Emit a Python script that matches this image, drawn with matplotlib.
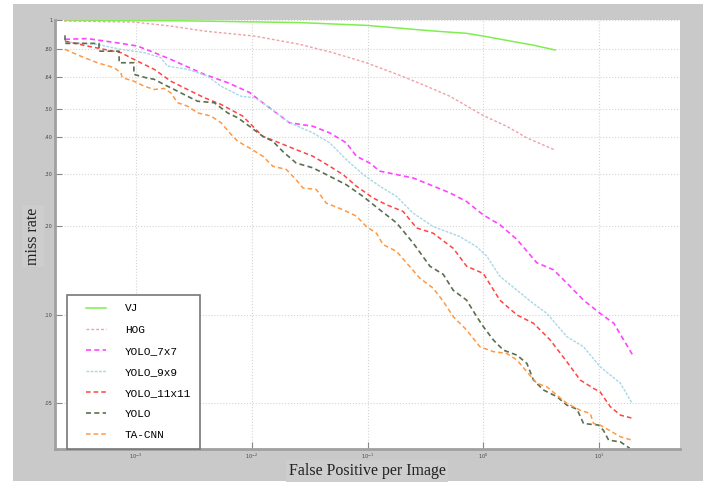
import matplotlib
matplotlib.use("Agg")
import matplotlib.pyplot as plt
from matplotlib.patches import Rectangle
from matplotlib.lines import Line2D
from matplotlib.legend_handler import HandlerLine2D

# FPPI / miss-rate curves
vj_fppi = [2.44e-4, 2.37e-3, 0.0259, 0.0978, 0.367, 0.718, 1.0, 1.81, 2.69, 4.17]
vj_mr = [0.998, 0.994, 0.980, 0.959, 0.918, 0.901, 0.882, 0.845, 0.822, 0.791]

hog_fppi = [2.39e-4, 9.6e-4, 2.0e-3, 3.89e-3, 7.52e-3, 0.01055, 0.0259, 0.050,
            0.0978, 0.190, 0.324, 0.515, 1.0, 1.59, 2.38, 4.09]
hog_mr = [0.992, 0.984, 0.954, 0.917, 0.894, 0.882, 0.827, 0.775,
          0.716, 0.649, 0.596, 0.551, 0.474, 0.436, 0.398, 0.363]

y7_fppi = [2.44e-4, 3.80e-4, 7.40e-4, 1.03e-3, 1.44e-3, 2.00e-3, 3.89e-3, 6.19e-3,
           9.55e-3, 0.01245, 0.0212, 0.0337, 0.0471, 0.0656, 0.0801, 0.1045, 0.1276,
           0.248, 0.346, 0.515, 0.718, 1.0, 1.39, 1.95, 2.90, 4.04, 5.27, 7.34,
           10.2, 13.4, 16.3, 19.9]
y7_mr = [0.860, 0.865, 0.833, 0.816, 0.775, 0.735, 0.654, 0.613,
         0.568, 0.524, 0.448, 0.436, 0.414, 0.383, 0.345, 0.327, 0.307,
         0.291, 0.276, 0.259, 0.242, 0.218, 0.202, 0.180, 0.150, 0.142, 0.128, 0.112,
         0.101, 0.0935, 0.0821, 0.0720]

y9_fppi = [2.44e-4, 4.64e-4, 7.40e-4, 1.18e-3, 1.64e-3, 1.87e-3, 2.79e-3, 4.16e-3,
           5.43e-3, 8.09e-3, 0.01055, 0.01245, 0.0212, 0.0337, 0.0471, 0.0656, 0.0914,
           0.1276, 0.178, 0.248, 0.369, 0.629, 0.877, 1.07, 1.39, 2.71, 3.54, 5.27,
           7.34, 10.2, 15.3, 19.3]
y9_mr = [0.842, 0.827, 0.795, 0.775, 0.745, 0.698, 0.680, 0.645,
         0.596, 0.551, 0.545, 0.524, 0.448, 0.414, 0.383, 0.336, 0.299,
         0.273, 0.252, 0.221, 0.199, 0.184, 0.170, 0.158, 0.135, 0.109, 0.101, 0.0842,
         0.0778, 0.0666, 0.0585, 0.050]

y11_fppi = [2.44e-4, 3.80e-4, 7.40e-4, 1.03e-3, 1.44e-3, 2.00e-3, 2.79e-3, 3.89e-3,
            5.43e-3, 8.36e-3, 0.01245, 0.01734, 0.0242, 0.0337, 0.0471, 0.0614, 0.0801,
            0.1116, 0.146, 0.203, 0.265, 0.369, 0.550, 0.718, 1.0, 1.39, 1.95, 2.71,
            3.78, 5.27, 6.87, 8.96, 10.2, 12.5, 15.3, 19.9]
y11_mr = [0.848, 0.816, 0.775, 0.725, 0.680, 0.620, 0.581, 0.545,
          0.517, 0.472, 0.403, 0.383, 0.363, 0.345, 0.319, 0.299, 0.273,
          0.249, 0.236, 0.224, 0.197, 0.189, 0.168, 0.146, 0.138, 0.112, 0.0998, 0.0935,
          0.0821, 0.0692, 0.060, 0.0562, 0.0547, 0.0487, 0.0456, 0.0444]

yolo_fppi = [2.44e-4, 2.44e-4, 4.80e-4, 4.80e-4, 7.16e-4, 7.16e-4, 9.6e-4, 9.6e-4,
             1.22e-3, 1.44e-3, 1.75e-3, 2.14e-3, 2.79e-3, 3.41e-3, 4.75e-3, 6.19e-3,
             7.55e-3, 9.55e-3, 0.01245, 0.0152, 0.01854, 0.0242, 0.0337, 0.0471, 0.0656,
             0.0914, 0.1276, 0.178, 0.248, 0.346, 0.451, 0.550, 0.718, 0.877, 1.0,
             1.22, 1.49, 1.95, 2.38, 2.71, 3.31, 4.32, 5.27, 6.44, 7.34, 9.9, 10.9,
             12.1, 15.3, 18.4]
yolo_mr = [0.887, 0.833, 0.833, 0.784, 0.784, 0.716, 0.716, 0.654,
           0.637, 0.629, 0.604, 0.581, 0.551, 0.530, 0.524, 0.484,
           0.466, 0.436, 0.403, 0.388, 0.358, 0.327, 0.315, 0.295, 0.276,
           0.252, 0.227, 0.205, 0.175, 0.146, 0.137, 0.121, 0.112, 0.0985, 0.0911,
           0.0821, 0.0758, 0.0729, 0.0683, 0.060, 0.0555, 0.0527, 0.0493, 0.0478, 0.0427,
           0.0422, 0.0405, 0.0375, 0.0370, 0.0352]

ta_fppi = [2.44e-4, 3.33e-4, 4.64e-4, 6.48e-4, 7.40e-4, 7.64e-4, 9.6e-4, 1.18e-3,
           1.44e-3, 1.75e-3, 2.00e-3, 2.29e-3, 2.79e-3, 3.41e-3, 4.45e-3, 5.43e-3,
           6.64e-3, 7.55e-3, 9.55e-3, 0.01245, 0.0152, 0.0199, 0.0242, 0.0277, 0.0361,
           0.0441, 0.0614, 0.0801, 0.0978, 0.1194, 0.136, 0.178, 0.217, 0.283, 0.369,
           0.451, 0.550, 0.718, 0.936, 1.22, 1.59, 1.95, 2.38, 2.90, 3.54, 4.32, 5.27,
           6.87, 8.39, 8.96, 10.2, 15.3, 19.3]
ta_mr = [0.795, 0.754, 0.716, 0.689, 0.662, 0.637, 0.620, 0.596,
         0.581, 0.586, 0.566, 0.524, 0.510, 0.484, 0.472, 0.448,
         0.409, 0.388, 0.368, 0.345, 0.319, 0.311, 0.287, 0.269, 0.266,
         0.239, 0.227, 0.216, 0.199, 0.189, 0.173, 0.164, 0.150, 0.133, 0.123,
         0.111, 0.0985, 0.0887, 0.0778, 0.0749, 0.0739, 0.0702, 0.064, 0.0585, 0.0569,
         0.0533, 0.050, 0.0474, 0.0462, 0.0427, 0.0422, 0.0385, 0.0375]

x_ticks = [1e-3, 1e-2, 1e-1, 1, 10]
x_tick_labels = ["$10^{-3}$", "$10^{-2}$", "$10^{-1}$", "$10^{0}$", "$10^{1}$"]
y_ticks = [0.05, 0.10, 0.20, 0.30, 0.40, 0.50, 0.64, 0.80, 1.0]
y_tick_labels = [".05", ".10", ".20", ".30", ".40", ".50", ".64", ".80", "1"]


def main():
    fig = plt.figure(figsize=(7.09, 4.86), dpi=100, facecolor="white")
    fig.patches.append(Rectangle((13 / 709, 5 / 486), 690 / 709, 477 / 486,
                                 transform=fig.transFigure, facecolor="#c9c9c9",
                                 edgecolor="none", zorder=-10))
    ax = fig.add_axes([55 / 709, 37 / 486, 625 / 709, 429 / 486])

    dash = (3, 2)
    ax.plot(vj_fppi, vj_mr, color="#80ee50", lw=1.1, label="VJ")
    ax.plot(hog_fppi, hog_mr, color="#f0a0a8", lw=1.0, dashes=(2, 1.5), label="HOG")
    ax.plot(y7_fppi, y7_mr, color="#ff44ff", lw=1.2, dashes=dash, label="YOLO_7x7")
    ax.plot(y9_fppi, y9_mr, color="#a8d8e6", lw=1.0, dashes=(2, 1), label="YOLO_9x9")
    ax.plot(y11_fppi, y11_mr, color="#ff4444", lw=1.1, dashes=dash, label="YOLO_11x11")
    ax.plot(yolo_fppi, yolo_mr, color="#5a7050", lw=1.2, dashes=dash, label="YOLO")
    ax.plot(ta_fppi, ta_mr, color="#ff9944", lw=1.1, dashes=dash, label="TA-CNN")

    ax.set_xscale("log")
    ax.set_yscale("log")
    ax.set_xlim(2e-4, 50)
    ax.set_ylim(0.035, 1.0)
    ax.set_xticks(x_ticks)
    ax.set_xticklabels(x_tick_labels)
    ax.set_yticks(y_ticks)
    ax.set_yticklabels(y_tick_labels)
    ax.minorticks_off()
    ax.tick_params(axis="both", labelsize=3.5, labelcolor="#444444", color="#888888",
                   direction="in", length=5, width=0.8, pad=2)
    ax.grid(True, color="#d4d4d4", linestyle=":", linewidth=0.8)

    for side in ["top", "right"]:
        ax.spines[side].set_visible(False)
    for side in ["left", "bottom"]:
        ax.spines[side].set_color("#a0a0a0")
        ax.spines[side].set_linewidth(2)

    # axis labels placed like the reference (slightly lighter boxes behind them)
    fig.text(367 / 709, 1 - 471 / 486, "False Positive per Image", ha="center",
             va="center", family="Liberation Serif", fontsize=11.5, color="#222222",
             bbox=dict(facecolor="#cdcdcd", edgecolor="none", pad=2))
    fig.text(33 / 709, 1 - 236 / 486, "miss rate", ha="center", va="center",
             rotation=90, family="Liberation Serif", fontsize=11.5, color="#222222",
             bbox=dict(facecolor="#cdcdcd", edgecolor="none", pad=2))

    leg = ax.legend(loc="lower left", bbox_to_anchor=(0.019, 0.0), fancybox=False,
                    prop={"family": "Liberation Mono", "size": 8},
                    handler_map={Line2D: HandlerLine2D(xpad=0.9)},
                    handlelength=2.7, handletextpad=1.7, labelspacing=1.0,
                    borderpad=0.8, borderaxespad=0.0, framealpha=1.0)
    leg.get_frame().set_edgecolor("#777777")
    leg.get_frame().set_linewidth(1.2)

    fig.savefig("out.png", dpi=100, facecolor=fig.get_facecolor())


if __name__ == "__main__":
    main()
